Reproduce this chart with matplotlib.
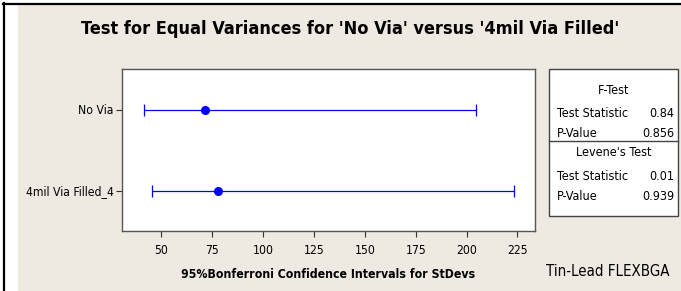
import matplotlib
matplotlib.use("Agg")
import matplotlib.pyplot as plt
from matplotlib.patches import Rectangle
from matplotlib.lines import Line2D

# data
groups = ["No Via", "4mil Via Filled_4"]
lower = [41.7, 45.7]
sigma = [71.6, 77.9]
upper = [204.7, 223.5]
xticks = [50, 75, 100, 125, 150, 175, 200, 225]

ftest = [("Test Statistic", "0.84"), ("P-Value", "0.856")]
levene = [("Test Statistic", "0.01"), ("P-Value", "0.939")]

W, H = 681, 291
plt.rcParams["font.family"] = ["DejaVu Sans"]
plt.rcParams["font.stretch"] = "condensed"
beige = "#eeeae1"
blue = "#0000ff"


def fx(px):
    return px / W


def fy(py):
    return 1 - py / H


fig = plt.figure(figsize=(W / 100, H / 100), dpi=100)
fig.patch.set_facecolor("white")
# beige panel and the black frame lines at top/left
fig.patches.append(Rectangle((fx(18), 0), 1 - fx(18), fy(5), transform=fig.transFigure,
                             facecolor=beige, edgecolor="none", zorder=-5))
fig.lines.append(Line2D([fx(4), fx(4)], [0, fy(3)], transform=fig.transFigure, color="black", lw=1.6))
fig.lines.append(Line2D([fx(3), 1], [fy(4), fy(4)], transform=fig.transFigure, color="black", lw=1.6))

ax = fig.add_axes([fx(122), fy(231), fx(535) - fx(122), (231 - 69) / H])
ax.set_facecolor("white")
ypos = [1, 2]
for y, lo, s, up in zip(ypos, lower, sigma, upper):
    ax.errorbar([s], [y], xerr=[[s - lo], [up - s]], fmt="o", color=blue, ms=5.5,
                lw=0.9, capsize=4, capthick=0.9)
ax.set_ylim(2.5, 0.5)
ax.set_xlim(30.8, 233.6)
ax.set_yticks(ypos)
ax.set_yticklabels(groups)
ax.set_xticks(xticks)
ax.tick_params(labelsize=8.7, length=4, width=0.8, color="#333333", pad=2)
ax.tick_params(axis="x", pad=5)
for sp in ax.spines.values():
    sp.set_color("#555555")
    sp.set_linewidth(1.0)
ax.set_xlabel("95%Bonferroni Confidence Intervals for StDevs", fontsize=8.8, fontweight="bold", labelpad=8)

fig.text(fx(350), fy(29), "Test for Equal Variances for 'No Via' versus '4mil Via Filled'",
         ha="center", va="center", fontsize=13, fontweight="bold")
fig.text(fx(608), fy(272), "Tin-Lead FLEXBGA", ha="center", va="center", fontsize=10.8)

# results box
L, R, T, B, M = 549, 678, 69, 216, 141
fs = 9
fig.patches.append(Rectangle((fx(L), fy(B)), fx(R) - fx(L), fy(T) - fy(B), transform=fig.transFigure,
                             facecolor="white", edgecolor="#444444", lw=1.0))
fig.lines.append(Line2D([fx(L), fx(R)], [fy(M), fy(M)], transform=fig.transFigure, color="#444444", lw=1.0))
cx = (L + R) / 2
fig.text(fx(cx), fy(90), "F-Test", ha="center", va="center", fontsize=fs)
for (name, val), py in zip(ftest, [114, 134]):
    fig.text(fx(557), fy(py), name, ha="left", va="center", fontsize=fs)
    fig.text(fx(674), fy(py), val, ha="right", va="center", fontsize=fs)
fig.text(fx(cx), fy(153), "Levene's Test", ha="center", va="center", fontsize=fs)
for (name, val), py in zip(levene, [176, 197]):
    fig.text(fx(557), fy(py), name, ha="left", va="center", fontsize=fs)
    fig.text(fx(674), fy(py), val, ha="right", va="center", fontsize=fs)

fig.savefig("out.png", dpi=100, facecolor=fig.get_facecolor())
